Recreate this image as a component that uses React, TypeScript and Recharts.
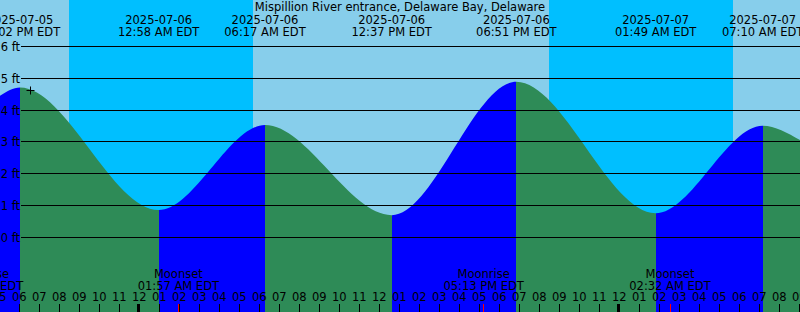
import React from 'react';
import { ComposedChart, Area, XAxis, YAxis, ReferenceArea, ReferenceLine, ReferenceDot } from 'recharts';

const W = 800;
const H = 312;
const FONT = '"DejaVu Sans", sans-serif';
const FS = 11.5;
const TZ = 'EDT';

const stationName = 'Mispillion River entrance, Delaware Bay, Delaware';

// chart time range and curve heights at its edges (ft)
const rangeDates = ['2025-07-05', '2025-07-07'];
const rangeTimes = ['05:02 PM', '09:02 AM'];
const rangeHeights = [4.45, 3.06];

// high / low tides
const tideDates = ['2025-07-05', '2025-07-06', '2025-07-06', '2025-07-06', '2025-07-06', '2025-07-07', '2025-07-07'];
const tideTimes = ['06:02 PM', '12:58 AM', '06:17 AM', '12:37 PM', '06:51 PM', '01:49 AM', '07:10 AM'];
const tideHeights = [4.71, 0.86, 3.53, 0.7, 4.89, 0.76, 3.51];

// night (sunset -> sunrise)
const sunsetDates = ['2025-07-05', '2025-07-06'];
const sunsetTimes = ['08:29 PM', '08:29 PM'];
const sunriseDates = ['2025-07-06', '2025-07-07'];
const sunriseTimes = ['05:41 AM', '05:41 AM'];

// moon events
const moonNames = ['Moonrise', 'Moonset', 'Moonrise', 'Moonset'];
const moonDates = ['2025-07-05', '2025-07-06', '2025-07-06', '2025-07-07'];
const moonTimes = ['04:11 PM', '01:57 AM', '05:13 PM', '02:32 AM'];

// current time marker
const nowDate = '2025-07-05';
const nowTime = '06:34 PM';
const nowHeight = 4.63;

// axes
const heightDomain = [-2.34, 7.46];
const heightTicks = [0, 1, 2, 3, 4, 5, 6];
const hourTicks = [
  -7, -6, -5, -4, -3, -2, -1, 0, 1, 2, 3, 4, 5, 6, 7, 8, 9, 10, 11, 12, 13,
  14, 15, 16, 17, 18, 19, 20, 21, 22, 23, 24, 25, 26, 27, 28, 29, 30, 31, 32, 33,
];

const COLORS = {
  day: '#87CEEB',
  night: '#00BFFF',
  falling: '#2E8B57',
  rising: '#0000FF',
  grid: '#000000',
  moon: '#FF0000',
};

// hours relative to 2025-07-06 00:00
const REF = Date.UTC(2025, 6, 6);
function toHours(date: string, time: string): number {
  const [y, m, d] = date.split('-').map(Number);
  const [hm, ap] = time.split(' ');
  let [hh, mm] = hm.split(':').map(Number);
  if (ap === 'PM' && hh !== 12) hh += 12;
  if (ap === 'AM' && hh === 12) hh = 0;
  return (Date.UTC(y, m - 1, d, hh, mm) - REF) / 3600000;
}

const tStart = toHours(rangeDates[0], rangeTimes[0]);
const tEnd = toHours(rangeDates[1], rangeTimes[1]);

const data = [
  { t: tStart, v: rangeHeights[0] },
  ...tideHeights.map((v, i) => ({ t: toHours(tideDates[i], tideTimes[i]), v })),
  { t: tEnd, v: rangeHeights[1] },
];

const gradStops: { off: number; color: string }[] = [];
for (let i = 0; i < data.length - 1; i++) {
  const c = data[i + 1].v > data[i].v ? COLORS.rising : COLORS.falling;
  gradStops.push({ off: (data[i].t - tStart) / (tEnd - tStart), color: c });
  gradStops.push({ off: (data[i + 1].t - tStart) / (tEnd - tStart), color: c });
}

const crisp = (v: number) => Math.floor(v) + 0.5;

const hourLabel = (h: number) => {
  const m = (((h % 12) + 12) % 12) || 12;
  return String(m).padStart(2, '0');
};

const footLabel = (v: number) => (props: any) => {
  const y = props.viewBox?.y ?? 0;
  const yy = crisp(y);
  return (
    <g>
      <line x1={21} x2={W} y1={yy} y2={yy} stroke={COLORS.grid} strokeWidth={1} />
      <text x={20} y={yy + 4} textAnchor="end" fontFamily={FONT} fontSize={FS} fill="#000">
        {`${v} ft`}
      </text>
    </g>
  );
};

const hourMark = (h: number) => (props: any) => {
  const x = props.viewBox?.x ?? 0;
  const midnight = ((h % 24) + 24) % 24 === 0;
  const xx = crisp(x);
  return (
    <g>
      <text x={x} y={301} textAnchor="middle" fontFamily={FONT} fontSize={FS} fill="#000">
        {hourLabel(h)}
      </text>
      <line x1={midnight ? xx - 1 : xx} x2={midnight ? xx - 1 : xx} y1={304} y2={H} stroke="#000" strokeWidth={midnight ? 3 : 1} />
    </g>
  );
};

const tideLabel = (date: string, time: string) => (props: any) => {
  const x = props.viewBox?.x ?? 0;
  return (
    <g>
      <text x={x} y={24} textAnchor="middle" fontFamily={FONT} fontSize={FS} fill="#000">{date}</text>
      <text x={x} y={36} textAnchor="middle" fontFamily={FONT} fontSize={FS} fill="#000">{`${time} ${TZ}`}</text>
    </g>
  );
};

const moonLabel = (name: string, time: string) => (props: any) => {
  const x = props.viewBox?.x ?? 0;
  const xx = crisp(x);
  return (
    <g>
      <text x={x} y={277.5} textAnchor="middle" fontFamily={FONT} fontSize={FS} fill="#000">{name}</text>
      <text x={x} y={290} textAnchor="middle" fontFamily={FONT} fontSize={FS} fill="#000">{`${time} ${TZ}`}</text>
      <line x1={xx} x2={xx} y1={304} y2={H} stroke={COLORS.moon} strokeWidth={1} />
    </g>
  );
};

const Cross = (props: any) => {
  const { cx, cy } = props;
  const x = crisp(cx);
  const y = crisp(cy);
  return <path d={`M${x - 4},${y}H${x + 4}M${x},${y - 4}V${y + 4}`} stroke="#000" strokeWidth={1} fill="none" />;
};

export default function App() {
  return (
    <div style={{ position: 'absolute', left: 0, top: 0, width: W, height: H }}>
      <ComposedChart width={W} height={H} data={data} margin={{ top: 0, right: 0, bottom: 0, left: 0 }}>
        <defs>
          <linearGradient id="tideFill" x1="0" y1="0" x2="1" y2="0">
            {gradStops.map((s, i) => (
              <stop key={i} offset={s.off} stopColor={s.color} />
            ))}
          </linearGradient>
        </defs>
        <XAxis type="number" dataKey="t" domain={[tStart, tEnd]} hide allowDataOverflow />
        <YAxis type="number" domain={heightDomain} hide allowDataOverflow />
        <ReferenceArea x1={tStart} x2={tEnd} fill={COLORS.day} fillOpacity={1} stroke="none" ifOverflow="hidden" />
        {sunsetDates.map((d, i) => (
          <ReferenceArea
            key={`n${i}`}
            x1={toHours(d, sunsetTimes[i])}
            x2={toHours(sunriseDates[i], sunriseTimes[i])}
            fill={COLORS.night}
            fillOpacity={1}
            stroke="none"
          />
        ))}
        <Area
          type="monotone"
          dataKey="v"
          stroke="none"
          fill="url(#tideFill)"
          fillOpacity={1}
          baseValue="dataMin"
          isAnimationActive={false}
          dot={false}
          activeDot={false}
        />
        {heightTicks.map((v) => (
          <ReferenceLine key={`y${v}`} y={v} stroke="none" ifOverflow="visible" label={footLabel(v)} />
        ))}
        {hourTicks.map((h) => (
          <ReferenceLine key={`h${h}`} x={h} stroke="none" ifOverflow="visible" label={hourMark(h)} />
        ))}
        {tideDates.map((d, i) => (
          <ReferenceLine
            key={`t${i}`}
            x={toHours(d, tideTimes[i])}
            stroke="none"
            ifOverflow="visible"
            label={tideLabel(d, tideTimes[i])}
          />
        ))}
        {moonNames.map((n, i) => (
          <ReferenceLine
            key={`m${i}`}
            x={toHours(moonDates[i], moonTimes[i])}
            stroke="none"
            ifOverflow="visible"
            label={moonLabel(n, moonTimes[i])}
          />
        ))}
        <ReferenceDot x={toHours(nowDate, nowTime)} y={nowHeight} r={4} shape={<Cross />} ifOverflow="visible" />
      </ComposedChart>
      <div
        style={{
          position: 'absolute',
          left: 0,
          top: 0,
          width: W,
          textAlign: 'center',
          fontFamily: FONT,
          fontSize: FS,
          lineHeight: '14px',
          color: '#000',
          pointerEvents: 'none',
        }}
      >
        {stationName}
      </div>
    </div>
  );
}
